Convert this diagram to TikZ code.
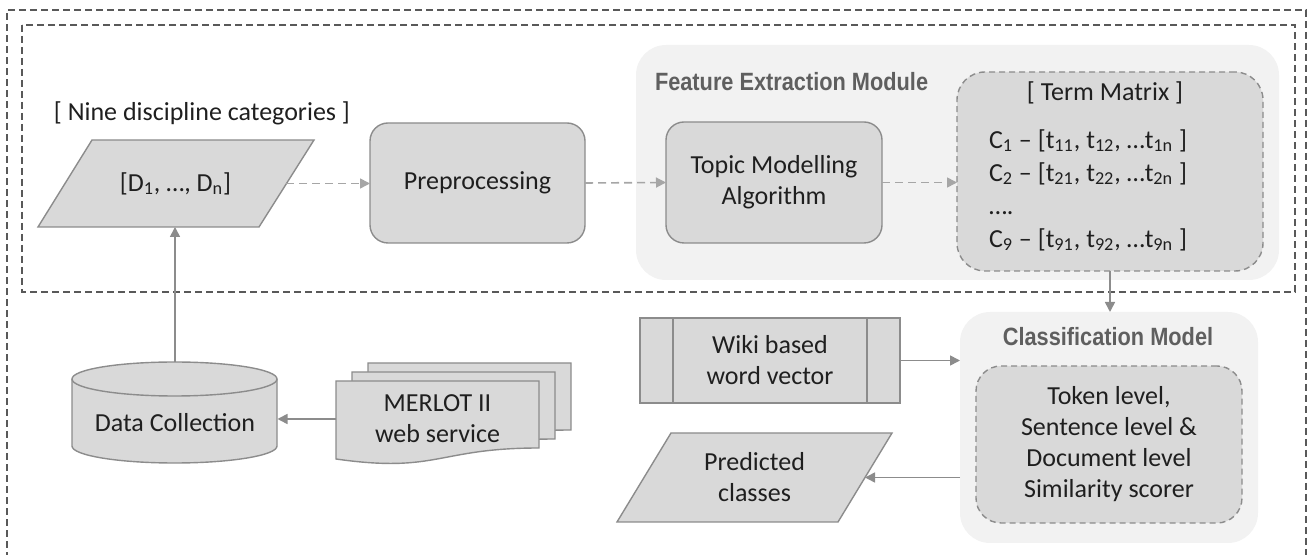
\documentclass[tikz,border=0pt]{standalone}
\usepackage{graphicx}
\usepackage{fontspec}
\setmainfont{Carlito}
\newfontfamily\titlefont{Liberation Sans}
\usetikzlibrary{arrows.meta,calc}
\definecolor{boxfill}{HTML}{D9D9D9}
\definecolor{boxline}{HTML}{8C8C8C}
\definecolor{regionfill}{HTML}{F2F2F2}
\definecolor{txt}{HTML}{1F1F1F}
\definecolor{titlegray}{HTML}{5F5F5F}
\definecolor{dashgray}{HTML}{595959}
\definecolor{arrgray}{HTML}{8C8C8C}
\definecolor{darrgray}{HTML}{A6A6A6}
\begin{document}
\begin{tikzpicture}[x=0.5pt,y=0.5pt,
  every node/.style={text=txt, font=\fontsize{13}{15.5}\selectfont, inner sep=0pt, outer sep=0pt},
  procbox/.style={draw=boxline, fill=boxfill, line width=0.7pt, rounded corners=9pt, align=center},
  region/.style={fill=regionfill, draw=none, rounded corners=15pt},
  innerdash/.style={draw=boxline, fill=boxfill, line width=0.7pt, dash pattern=on 3pt off 2pt, rounded corners=14pt},
  frame/.style={draw=dashgray, line width=0.6pt, dash pattern=on 3.5pt off 2pt},
  arr/.style={draw=arrgray, line width=0.8pt, -{Triangle[length=5pt,width=5pt]}},
  darr/.style={draw=darrgray, line width=0.8pt, dash pattern=on 4pt off 2.5pt, -{Triangle[length=5pt,width=5pt]}},
  shapefill/.style={draw=boxline, fill=boxfill, line width=0.7pt},
  shapeline/.style={draw=boxline, line width=0.7pt},
  title/.style={text=titlegray, font=\titlefont\bfseries\fontsize{12.5}{15}\selectfont},
]
\useasboundingbox (0,0) rectangle (1308,-555);

% frames
\draw[frame] (7,-570) -- (7,-10) -- (1306,-10) -- (1306,-570);
\draw[frame] (22,-25) rectangle (1295,-292);

% light regions
\node[region, minimum width=321.5pt, minimum height=117.5pt] (fe) at (957.5,-162.5) {};
\node[region, minimum width=149pt, minimum height=115.5pt] (cm) at (1109,-427.5) {};
\node[title, anchor=west] (fetitle) at (655,-82) {\scalebox{0.87}[1]{Feature Extraction Module}};
\node[title] (cmtitle) at (1108,-337) {\scalebox{0.87}[1]{Classification Model}};

% input parallelogram
\node (nine) at (202,-113) {[ Nine discipline categories ]};
\draw[shapefill] (92,-140) -- (314,-140) -- (259,-227) -- (38,-227) -- cycle;
\node[minimum width=110.5pt, minimum height=43.5pt] (D) at (175.5,-183.5) {[D\textsubscript{1}, …, D\textsubscript{n}]};

% process boxes
\node[procbox, minimum width=107.5pt, minimum height=60pt] (pre) at (477.5,-183) {Preprocessing};
\node[procbox, minimum width=108pt, minimum height=60.5pt] (topic) at (774,-182.5) {Topic Modelling\\Algorithm};

% term matrix
\node[innerdash, minimum width=153pt, minimum height=99.5pt] (tm) at (1110,-171.5) {};
\node (tmtitle) at (1105,-93) {[ Term Matrix ]};
\node[anchor=west, align=left, font=\fontsize{13}{16.5}\selectfont] (tmrows) at (989,-190)
  {C\textsubscript{1} – [t\textsubscript{11}, t\textsubscript{12}, …t\textsubscript{1n} ]\\
   C\textsubscript{2} – [t\textsubscript{21}, t\textsubscript{22}, …t\textsubscript{2n} ]\\
   ….\\
   C\textsubscript{9} – [t\textsubscript{91}, t\textsubscript{92}, …t\textsubscript{9n} ]};

% data collection cylinder
\draw[shapefill] (72,-379) -- (72,-446)
  arc[start angle=180, end angle=360, x radius=51.25pt, y radius=8.5pt] -- (277,-379)
  arc[start angle=0, end angle=180, x radius=51.25pt, y radius=8.5pt] -- cycle;
\draw[shapeline] (72,-379) arc[start angle=180, end angle=360, x radius=51.25pt, y radius=8.5pt];
\node[minimum width=102.5pt, minimum height=61pt] (dc) at (175,-423) {Data Collection};

% MERLOT multi-document
\draw[shapefill] (368,-363) -- (571,-363) -- (571,-430) .. controls (469.5,-430) and (469.5,-455.5) .. (368,-441) -- cycle;
\draw[shapefill] (352,-372) -- (555,-372) -- (555,-439) .. controls (453.5,-439) and (453.5,-464.5) .. (352,-450) -- cycle;
\draw[shapefill] (336,-381) -- (539,-381) -- (539,-448) .. controls (437.5,-448) and (437.5,-473.5) .. (336,-459) -- cycle;
\node[minimum width=101.5pt, minimum height=33.5pt, align=center] (merlot) at (437.5,-419) {MERLOT II\\web service};

% wiki predefined process
\node[shapefill, minimum width=130pt, minimum height=42.5pt, align=center] (wiki) at (770,-360.5) {Wiki based\\word vector};
\draw[shapeline] ([xshift=16.5pt]wiki.north west) -- ([xshift=16.5pt]wiki.south west);
\draw[shapeline] ([xshift=-16.5pt]wiki.north east) -- ([xshift=-16.5pt]wiki.south east);

% predicted classes parallelogram
\draw[shapefill] (671,-433) -- (892,-433) -- (838,-522) -- (617,-522) -- cycle;
\node[minimum width=110.5pt, minimum height=44.5pt, align=center] (pred) at (754.5,-477.5) {Predicted\\classes};

% similarity scorer
\node[innerdash, rounded corners=12.5pt, minimum width=133pt, minimum height=78.5pt, align=center] (sim) at (1109,-444.5)
  {Token level,\\Sentence level \&\\Document level\\Similarity scorer};

% connectors
\draw[darr] (D.east) -- (D.east -| pre.west);
\draw[darr] (pre.east) -- (topic.west);
\draw[darr] (topic.east) -- (topic.east -| tm.west);
\draw[arr] (tm.south) -- (tm.south |- cm.north);
\draw[arr] (wiki.east) -- (wiki.east -| cm.west);
\draw[arr] (pred.east -| cm.west) -- (pred.east);
\draw[arr] (merlot.west) -- (merlot.west -| dc.east);
\draw[arr] (dc.north) -- (dc.north |- D.south);
\end{tikzpicture}
\end{document}
